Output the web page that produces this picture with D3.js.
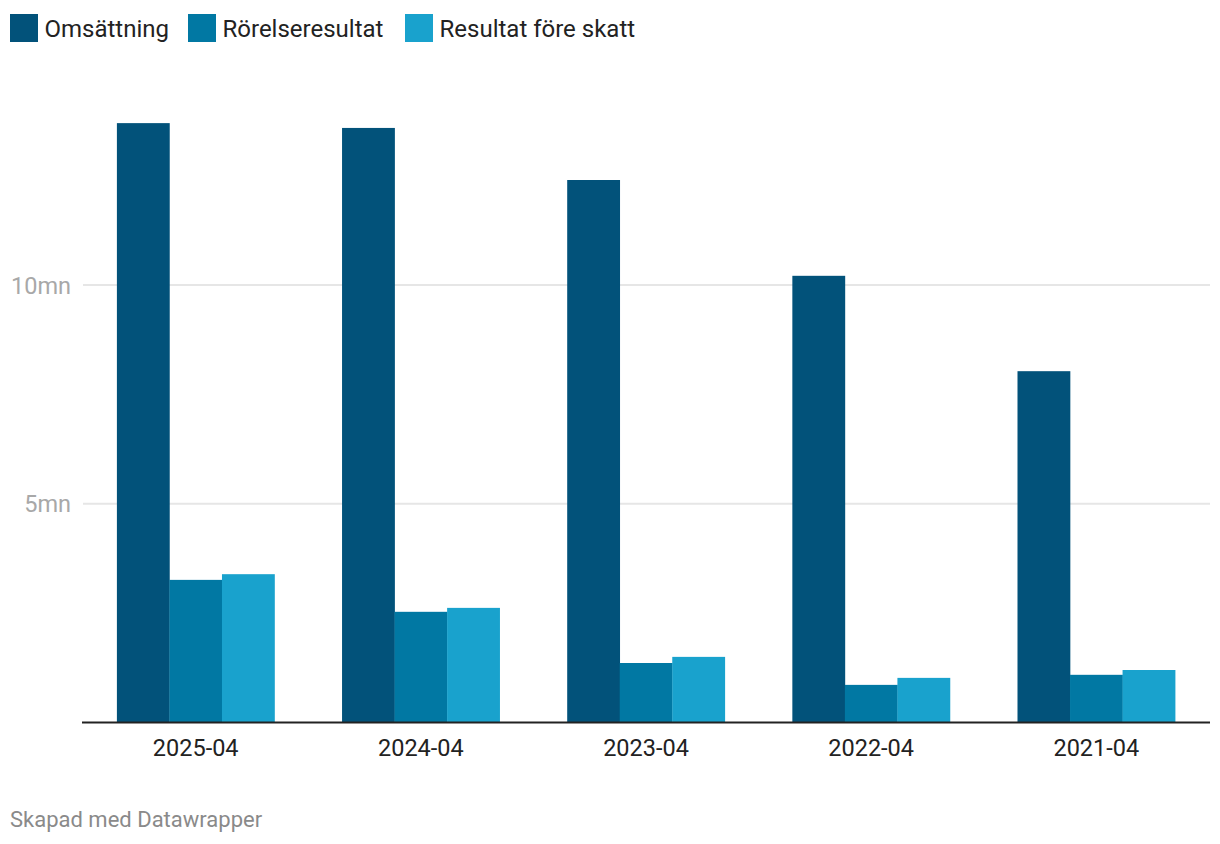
<!DOCTYPE html>
<html>
<head>
<meta charset="utf-8">
<script src="https://cdn.jsdelivr.net/npm/d3@7"></script>
<style>
  html, body { margin: 0; padding: 0; background: #fff; }
  svg { display: block; font-family: Roboto, "Noto Sans", sans-serif; }
</style>
</head>
<body>
<svg id="chart" width="1220" height="844"></svg>
<script>
const categories = ["2025-04", "2024-04", "2023-04", "2022-04", "2021-04"];
const seriesNames = ["Omsättning", "Rörelseresultat", "Resultat före skatt"];
const omsattning = [13.70, 13.59, 12.40, 10.21, 8.03];
const rorelseresultat = [3.26, 2.53, 1.36, 0.86, 1.09];
const resultatForeSkatt = [3.39, 2.62, 1.50, 1.02, 1.20];
const yTicks = [5, 10];
const yTickLabels = ["5mn", "10mn"];
const colors = ["#02527a", "#0178a3", "#19a2cd"];

const seriesValues = [omsattning, rorelseresultat, resultatForeSkatt];

const svg = d3.select("#chart");
const plotLeft = 82, plotRight = 1210, baseline = 722.5;

const x = d3.scaleBand().domain(categories).range([plotLeft, plotRight])
  .paddingInner(0.3).paddingOuter(0.155);
const x1 = d3.scaleBand().domain(seriesNames).range([0, x.bandwidth()]).padding(0);
const y = d3.scaleLinear().domain([0, 10]).range([baseline, 285]);
const color = d3.scaleOrdinal().domain(seriesNames).range(colors);

// Gridlines
svg.append("g").selectAll("line").data(yTicks).join("line")
  .attr("x1", plotLeft + 1).attr("x2", plotRight)
  .attr("y1", d => y(d)).attr("y2", d => y(d))
  .attr("stroke", "#e6e6e6").attr("stroke-width", 2);

// Y labels
svg.append("g").selectAll("text").data(yTicks).join("text")
  .attr("x", 71).attr("y", d => y(d) + 8.5)
  .attr("text-anchor", "end")
  .attr("font-size", 23.5).attr("fill", "#a8a8a8")
  .text((d, i) => yTickLabels[i]);

// Bars
const data = categories.map((c, i) => ({ cat: c, vals: seriesNames.map((s, j) => ({ s, v: seriesValues[j][i] })) }));
const groups = svg.append("g").selectAll("g").data(data).join("g")
  .attr("transform", d => `translate(${x(d.cat)},0)`);
groups.selectAll("rect").data(d => d.vals).join("rect")
  .attr("x", d => x1(d.s))
  .attr("width", x1.bandwidth() + 0.3)
  .attr("y", d => y(d.v))
  .attr("height", d => baseline - y(d.v))
  .attr("fill", d => color(d.s));

// Baseline axis
svg.append("line").attr("x1", plotLeft).attr("x2", plotRight)
  .attr("y1", baseline).attr("y2", baseline)
  .attr("stroke", "#222").attr("stroke-width", 2);

// X labels
svg.append("g").selectAll("text").data(categories).join("text")
  .attr("x", d => x(d) + x.bandwidth() / 2)
  .attr("y", 756)
  .attr("text-anchor", "middle")
  .attr("font-size", 23.5).attr("fill", "#222")
  .text(d => d);

// Legend
const legendX = [10, 188, 405];
const legend = svg.append("g").selectAll("g").data(seriesNames).join("g")
  .attr("transform", (d, i) => `translate(${legendX[i]},14)`);
legend.append("rect").attr("width", 28).attr("height", 28).attr("fill", d => color(d));
legend.append("text").attr("x", 34.5).attr("y", 23).attr("font-size", 24).attr("fill", "#222").text(d => d);

// Footer
svg.append("text").attr("x", 10).attr("y", 827)
  .attr("font-size", 22).attr("fill", "#8a8a8a")
  .text("Skapad med Datawrapper");
</script>
</body>
</html>
